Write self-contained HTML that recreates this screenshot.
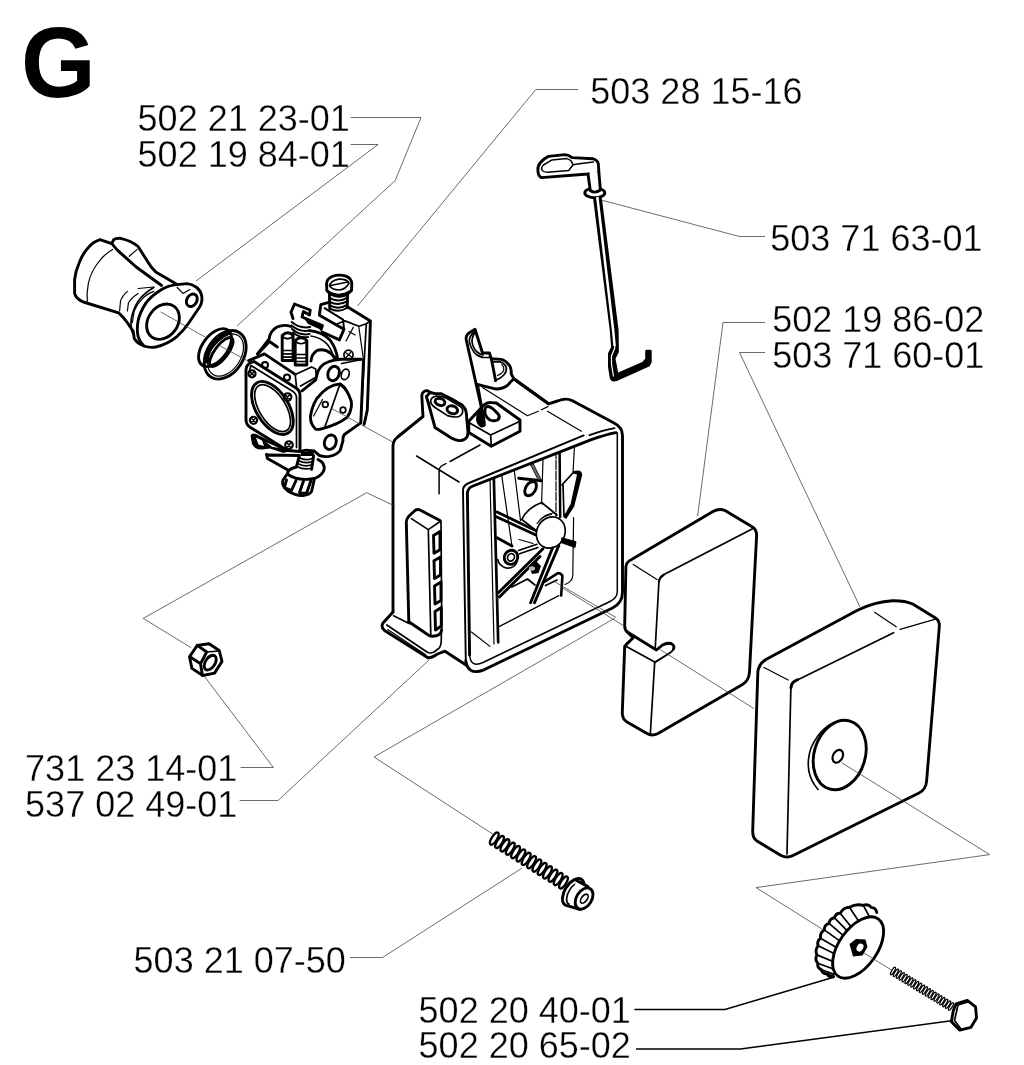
<!DOCTYPE html>
<html><head><meta charset="utf-8"><title>G</title>
<style>
html,body{margin:0;padding:0;background:#fff;}
body{width:1024px;height:1065px;overflow:hidden;font-family:"Liberation Sans",sans-serif;}
svg{display:block;position:absolute;left:0;top:0;}
.t{font-family:"Liberation Sans",sans-serif;font-size:36px;fill:#000;letter-spacing:0px;stroke:#fff;stroke-width:0.35px;}
.g{font-family:"Liberation Sans",sans-serif;font-size:100px;font-weight:bold;fill:#000;}
.ld{fill:none;stroke:#3a3a3a;stroke-width:0.75;}
.p{fill:none;stroke:#000;stroke-width:2.9;stroke-linejoin:round;stroke-linecap:round;}
.m{fill:none;stroke:#000;stroke-width:1.7;stroke-linejoin:round;stroke-linecap:round;}
.n{fill:none;stroke:#000;stroke-width:1.2;stroke-linejoin:round;stroke-linecap:round;}
.w{fill:#fff;}
.m2{fill:none;stroke:#000;stroke-width:2.2;}
.n2{fill:none;stroke:#000;stroke-width:1.3;}
</style></head><body>
<svg width="1024" height="1065" viewBox="0 0 1024 1065">
<rect width="1024" height="1065" fill="#fff"/>
<!--LABELS-->
<g id="labels" opacity="0.999">
<text class="g" transform="translate(21,97) scale(0.96,1)">G</text>
<text class="t" x="137.6" y="131.1">502 21 23-01</text>
<text class="t" x="137.6" y="167.1">502 19 84-01</text>
<text class="t" x="590.3" y="103.6">503 28 15-16</text>
<text class="t" x="770.3" y="251.1">503 71 63-01</text>
<text class="t" x="772.2" y="332.1">502 19 86-02</text>
<text class="t" x="772.2" y="367.9">503 71 60-01</text>
<text class="t" x="25.1" y="781.1">731 23 14-01</text>
<text class="t" x="25.1" y="816.6">537 02 49-01</text>
<text class="t" x="133.6" y="972.6">503 21 07-50</text>
<text class="t" x="418.6" y="1022.6">502 20 40-01</text>
<text class="t" x="418.6" y="1058.2">502 20 65-02</text>
</g>
<!--LEADERS-->
<!--PARTS-->
<g id="box">
<!-- silhouette fill to hide leader lines -->
<path class="w" d="M393 444L424 416L422 396L427 390.5L441 393.5L461 404L467 415L469 422L477 412L466.5 338L475 329.5L482.5 353H489.5L491.5 359L501 359.5L510 366L514 379L549 404L567.5 398.8L615 423.5L622.5 431V595L612.5 608L476 672.5L466 665L445 651.5L427.5 657.5L384 630L382.5 624L393 612Z"/>
<!-- outer silhouette -->
<path class="p" d="M393 612V446Q393 441 397 437.5L423 416.5L421.8 396Q422 391 427 390.6L430.5 392.5"/>
<path class="p" d="M393 612L383 623Q380.5 627 384.5 630.5L427.5 657.5Q431 658.5 437.5 654L445 651.2L466 665"/>
<path class="p" d="M514 379L548.5 403.8L557.5 401Q566 397.5 572 400.5L614 423Q622.5 427 622.5 436V592Q622.5 603 612.5 608L484 669.8Q468 676 465.8 661"/>
<path class="m" style="stroke-width:1.9" d="M465.8 661L463 491Q462.6 485.5 469 483L583.7 435.4M589.6 435.2Q603 430 614.5 428.1"/>
<path class="p" d="M469.6 655L467.4 494Q467.2 488.2 473 486L592 439.4Q606 434.4 616 432.6"/>
<path class="m" style="stroke-width:1.5" d="M469.6 655Q470.5 668 483 662.5L610 601.5Q617 598 617.3 592V433"/>
</g>

<g id="boxtop">
<!-- left boss -->
<path class="p w" d="M426.3 396.5L430.3 392.5L435 393.6L441.3 393.7L451.3 398.7L461.3 404.4Q465.6 408 466.3 413L468 432.5Q468 437 465 439Q462 441 458.7 440.6Q455 440 451.3 438L435 427.5L427.5 400Z"/>
<path class="m" d="M430.6 401.5Q431 397 436.3 396.2Q441 395.8 447 398.5L460 406.2Q463.5 409 462.5 412.5Q461 417 456 417Q451 417 447.5 415.6L435 407.5Q431 405 430.6 401.5Z"/>
<ellipse class="p" cx="440" cy="401.9" rx="5" ry="3.4" transform="rotate(18 440 401.9)"/>
<ellipse class="p" cx="452.3" cy="409.8" rx="5.4" ry="3.8" transform="rotate(18 452.3 409.8)"/>
<!-- block -->
<path class="p w" d="M468.8 421.3L483.8 405Q487 402.3 491 402.6L496.3 403L520 420V431.3L491.3 446.3L468.8 432.5Z"/>
<path class="m" d="M468.8 422.5L490.6 435L520 421.3M490.6 435L491.3 446.3"/>
<path class="p" d="M485 410Q485 406 488.5 406.5Q492 407 498.5 414.5Q500.5 418 497.5 420Q494 421.5 490 420Q484 416 485 410Z"/>
<!-- tall tab -->
<path class="p w" d="M482.5 412.5L466.3 340Q465.5 335.5 469 333L475 329.3L482.5 353H489.4L491.3 358.8L501.3 359.4Q506 360.5 510 366.3Q511.5 370 511.3 373.8L513.8 378.8L510 382.5Q508 386 502.5 388Q498 389.3 495 388.8L485 386.3L477.5 384.4Z"/>
<path class="m" d="M474 332Q469.5 336 469.3 341Q470 347 475 353.3Q479 357 483.8 357.5L489.5 357.5M476.3 331Q472 336 472 341.5Q472.5 347 476.5 351.5Q480 354.5 483 355"/>
<path class="p" d="M491.5 359.5L495.6 380.6"/>
<path class="m" d="M492.5 361.9L500 361.9Q505 363.5 506.3 367.5Q507 371.5 503.8 375Q500.5 378.5 496.3 380"/>
<path class="n" d="M501.9 364.4Q504.3 367 503.8 370Q502.5 373.5 497.5 375.5"/>
<path class="p" d="M482.5 412.5L478 412L477.5 420Q478.5 424.5 481.3 426Q484 426 484.4 425L483.8 418.8Z" style="fill:#000"/>
<path class="p" d="M513.8 378.8L548.5 403.8"/>
</g>
<g id="boxdetail">
<!-- left panel with slots -->
<path class="p" d="M408.8 621.7L406.3 522Q406.3 519 409 516L415 510.5Q417.3 508.7 420 510L440 520.5"/>
<path class="m" d="M440.8 521L428.3 529.6L411.4 518.6M428.3 529.6L430.8 635.5M441 521.5L441.8 630"/>
<path class="p" d="M408.8 621.7L429 635.5Q432 637 437 635.5Q441.5 634 441.5 630"/>
<path class="p" d="M433.5 535.5L440 531.5V549.8L434 553.3ZM434 560.8L440.5 557V575L434.5 578.6ZM434.5 586L441 582V600.5L435 604ZM435 611.5L441.3 607.5V626L435.5 630Z"/>
<!-- foot -->
<path class="m" d="M393.6 615.8L409 623.5M386.8 625L427 652Q430 654 434 652L438.4 648.8Q441.5 646 441.3 638.7V632"/>
<path class="n" d="M387.7 629.6L425.7 654.8"/>
<!-- top-left fillet lines -->
<path class="n" style="stroke-width:1.5" d="M416.6 456L459 482M439.1 493.7V470Q439.5 466 446 463.6M450 461.5L480 445"/>
<!-- top-right step lines -->
<path class="n" d="M547.5 411.3L581.3 431.3M482.5 387.5L527.4 415.7L538.3 411.3M541.3 409.8L547.9 406.6"/>
<clipPath id="boxclip"><path d="M617.3 432.7V594Q617 600 610 603L483 664.5Q473 668.5 471.5 660L467.8 493Q467.5 487.5 473 485.5L592 439.2Q606 434.2 617.3 432.7Z"/></clipPath>
<g clip-path="url(#boxclip)">
<!-- floor inside -->
<path class="n" d="M471.4 632L490 646.4M498.6 626.9L558.8 595.6"/>
<!-- interior walls -->
<path class="n" d="M490 478.4L494 644"/>
<path class="p" style="stroke-width:2.7" d="M493.8 477L498.2 642.3"/>
<path class="n" d="M501.7 475.3L511.9 545.6M514.2 469.8L520.5 520.6M543 459L541.6 504M574.4 447.2L573 473M573.6 517.5L572.8 575.3Q572.5 582 565 584.5"/>
<path class="n" stroke-dasharray="9 1.5" d="M556 450V517.5"/>
<path class="p" style="stroke-width:2.5" d="M559.6 449L560.2 517"/>
<!-- hook symbol -->
<path class="p" d="M518.6 478.2L541.3 480.8"/>
<ellipse class="p" cx="530.6" cy="488.6" rx="4.9" ry="7.8" transform="rotate(32 530.6 488.6)"/>
<path d="M530.6 465L533.4 464L541 479.2L538.4 480.3Z" fill="#666" stroke="#000" stroke-width="0.8"/>
<!-- blade -->
<path class="m" d="M562 484.8L573.8 472M563 485L564 516"/>
<path d="M572.8 470.9L578.7 470.6Q582 471.5 582.2 475L581.2 479L574.2 506.6L566.2 519L563.2 517L570.6 504L577 474.5L572.8 473.5Z" fill="#000"/>
<!-- cylinder knob -->
<path class="m" d="M521.8 519.5Q527 508 541.6 502.5L557 515M521.8 519.5L536 530.5"/>
<path class="n" d="M539 521Q545 514 553 513M537 523.5Q543 515.5 551.5 514.5"/>
<ellipse class="m w" cx="550.8" cy="532.5" rx="14" ry="16" transform="rotate(28 550.8 532.5)"/>
<!-- wedge -->
<path d="M561.9 537.8L576 541.7L575 547.5L561 542.5Z" fill="#000" stroke="#000" stroke-width="1"/>
<!-- ribs -->
<path class="p" d="M497 512L536 530.8M496.3 516.7L535.3 534.7M497 537.8L512 546"/>
<path class="m" d="M518.5 550.5L536.9 544.3M519.5 553.8L538 547.5"/>
<path class="n" d="M519 539.5L533 543.5"/>
<path class="p" d="M498.6 592.5L543 548.8M499.4 597L540 556.5M530.6 602.7L552.5 548M534.5 602.7L558.8 545.6"/>
<!-- small boss -->
<path class="m" d="M497.8 559.7Q499 566 506 568Q514 569 517 562"/>
<ellipse class="p w" cx="511" cy="557.3" rx="6.6" ry="7.2" transform="rotate(30 511 557.3)"/>
<ellipse class="m" cx="511" cy="557.3" rx="3.3" ry="3.9" transform="rotate(30 511 557.3)"/>
<!-- bracket -->
<path class="m" d="M511.9 587L527.5 579L535 585M545.5 585.5L557 580"/>
<path class="p" style="stroke-width:2.6" d="M544.7 581.6L557.5 573.3Q560 572.3 562.4 575.5L561.2 595.5"/>
<path d="M529 566L536 561L541 566L538.5 573L532 574Z" fill="#000"/>
<ellipse cx="532" cy="568.5" rx="3" ry="2.2" fill="#bbb"/>
</g>
</g>
<g id="filter">
<path class="p w" d="M625.9 567Q626 562 632 559.3L713 511.5Q719 508 725 510.5L751.7 526.6Q757 529.5 756.6 536L749.5 672Q749 680.5 742.5 684.5L658 733.5Q652 736.5 647 733.5L627 722Q622 719 622.3 712.3L624.7 646.3L633.2 637.8L627 631.7Q624.5 629.5 624.7 625Z"/>
<path class="p" d="M627 631.7L656.4 650L662.5 645Q667 642.5 671 643.5Q675 645.5 673.5 649"/>
<path class="m" style="stroke-width:2" d="M673.5 649Q672.5 651.5 669 653.5L655.2 662.2"/>
<path class="m" d="M655.2 662.2L625.9 646.3M633.2 637.8L625.9 644"/>
<path class="m" d="M655.2 648.8L658.9 582Q659.5 577 664 574.5L754 527.9M654.7 662.2L650.3 734.3"/>
<path class="n" d="M633.2 564.5L657 579.5"/>
<path class="m" style="stroke-width:2.2" d="M658.9 581.5Q659.5 577.5 663.5 575"/>
</g>
<g id="cover">
<path class="p w" d="M757.8 673Q758 665 765.4 659.8L857 610.5Q875 601.5 892.4 600.7Q905 600.5 912.7 604L935.5 617.9Q940 621 939.3 627L926.6 781Q926 789.5 919 793L793 855.5Q787 858.5 781 855.5L757 841Q752.5 838 752.7 831Z"/>
<path class="m" d="M787 854L790.8 691Q791 685 794.6 681.4Q796.5 679.8 798.4 679.4L893.6 632.7"/>
<path class="n" d="M764 667.5L788.2 680M874.6 612.3L896.2 626.8M900 629.4L935.5 619.2"/>
<path class="n" style="stroke-width:1.6" d="M844 719.8Q822 723 811 748Q803 772 818 789.5"/>
<path class="p" d="M790.9 688Q791.3 683 794.6 681.2L797.5 679.8"/>
<ellipse class="p" cx="839.7" cy="755" rx="25.5" ry="35.5" transform="rotate(17 839.7 755)"/>
<ellipse class="m" style="stroke-width:2.2" cx="837.8" cy="756.3" rx="4.8" ry="6.8" transform="rotate(28 837.8 756.3)"/>
</g>
<g id="manifold">
<path class="p w" d="M100 239.6Q93 242 89.3 246.5Q83 253 79.5 262Q75.5 271 74.6 279.7V293.4Q76 299 83.4 302L118.6 312.9Q123.5 317 127.4 322.7L133.2 331.4L134.2 338.3Q137 343.5 144 346Q150 348 155.7 347Q168 344 177.2 336.3Q184 330 188.9 322.7L199.6 307Q203 301 201.6 295.3Q200.5 290.5 196.7 287.5Q192 284 187 283.6L177.2 284.6L155.7 271.9Q151 267.5 147.9 262L138.1 246.5Q131 240.5 120.5 238.3Q116 238 113.7 239.6L111.8 243.6Z"/>
<path class="n" d="M112.7 249.4Q103 255 97.1 264Q90.5 273 88.3 283.6Q86.5 293 87.3 301.5"/>
<path class="p" d="M111.8 243.6L117.6 250.4L127.4 259.2L136.2 267L161.6 285.5"/>
<path class="n" d="M129.3 256.3L137.1 249.4"/>
<path class="p" d="M177.2 284.6Q168 285.5 161.6 289.5Q151 296 145.9 303.1Q140 312 138.1 320.7Q136.5 330 138.1 336.3Q140 342.5 144 346"/>
<path class="m" d="M153.8 287.5Q144 293 138.1 301.2Q133 309.5 131.3 318.8Q130.3 327 132.5 333"/>
<path class="n" d="M127.4 291.4Q122 296 120.5 301.2L119.6 311M138.1 288.5L153.8 287M138.1 293.4Q131.5 297.5 128.4 303L127.4 311M153.8 291.4Q146.5 294 142 299.2Q136.5 305 134.2 311L132.3 322.7"/>
<ellipse class="p" cx="163" cy="321.7" rx="14.8" ry="19" transform="rotate(36 163 321.7)"/>
<ellipse class="p" cx="191.8" cy="300.3" rx="5" ry="6.6" transform="rotate(30 191.8 300.3)"/>
<path class="n" d="M177.2 287.5L183 293.4L189.9 289.5"/>
</g>
<g id="ring">
<ellipse class="p" cx="215" cy="347.6" rx="12.4" ry="21.8" transform="rotate(37 215 347.6)"/>
<path d="M227.5 332.8Q214.5 339.5 208.5 351Q206.3 356 206.6 361" fill="none" stroke="#000" stroke-width="4.8" stroke-linecap="round"/>
<ellipse class="p" cx="221.3" cy="352" rx="6.6" ry="17.4" transform="rotate(37 221.3 352)"/>
<ellipse class="p" cx="225.2" cy="354.8" rx="18.2" ry="26.4" transform="rotate(33 225.2 354.8)"/>
<ellipse class="n" cx="225.6" cy="355" rx="15.2" ry="23.2" transform="rotate(33 225.6 355)"/>
</g>
<g id="carb">
<!-- silhouette white -->
<path class="w" d="M246 372L258 353L270 331L292 322L294 304L310 310L322 305L329 291L328 283L340 275L352 283L348 307L370 320L364 424L344 435L340 451L325 470L312 492L296 496L281 480L250 437L246 421Z"/>
<!-- top screw -->
<path class="p" d="M329.4 294L329.8 309M347.6 294L347.2 307.5"/>
<path class="m" style="stroke-width:2" d="M329.8 298.2Q338.5 303 347.4 297.6M329.8 301.8Q338.5 306.6 347.3 301.2M329.8 305.4Q338.5 310.2 347.2 304.8M330 308.6Q338.5 313 347 308"/>
<path class="p w" d="M326.6 284Q326.5 279 332 276.5Q339 274 346 276.2Q351.8 278.5 351.8 284L351.5 290.5Q346 296.5 339 296.2Q331.5 296 326.8 290.5Z"/>
<path d="M327 289.5Q338.5 298 351.5 289V291.5Q345 297.5 339 297.2Q332 297 327 292.5Z" fill="#000"/>
<path class="m" d="M329.5 285.8Q331 280.5 339 279.2Q347 279 349 283.2Q346 289.5 339 290Q332.5 290 329.5 285.8Z"/>
<path class="m" d="M330.5 285.5L348 282"/>
<!-- top right block -->
<path class="p" d="M328 302.6L320.8 304.6L319.4 315.3L344 329.2L339.4 339.9L322.2 332"/>
<path class="m" style="stroke-width:2" d="M324.5 308.2L343.1 319.6L344 329.2"/>
<path class="p" d="M347.7 307L370.4 320.9L369 365L367.3 410L364.2 424.3"/>
<path class="m" d="M337.5 323.7L345 320.9L358.9 326.2L366.3 323.7L370.4 320.9M366.3 323.7L364 365L360.8 422.9"/>
<path class="n" d="M358.9 327.4L363.5 360M353.3 327.4L346 341M349 331.5L355 335"/>
<path class="m" d="M362 359.5L341.6 363.5"/>
<!-- small screw right -->
<circle class="m" cx="348.5" cy="354.8" r="4.6"/>
<path class="n" d="M345.5 352.5L351.5 357M351 352L346 357.5"/>
<!-- choke lever -->
<path class="p" d="M293 318.5L291 312.2L294.5 304L310.2 310L309.5 315L303.4 311.5L302 317L322.5 325.5L321 329.5"/>
<path d="M303 317L322.5 325L321.5 330L308 324Z" fill="#000"/>
<path class="m" style="stroke-width:2.1" d="M291.7 322Q300 329 310.2 327M291.5 325.5Q300 332.5 309.8 330.5M292 329Q300 336 309.5 334M293 332.5Q300 338.5 308 337"/>
<!-- needles -->
<path class="p w" d="M282.2 335.5V360.5H293.1V335.5Q288 330 282.2 335.5Z"/>
<path class="m" d="M282.2 336.5Q287.6 341 293.1 336.5M282.2 350.5H293M282.4 353.8H293M282.6 357.2H293"/>
<path class="p w" d="M295.2 340.5V365H306.8V340.5Q301 335 295.2 340.5Z"/>
<path class="m" d="M295.2 341.5Q301 346 306.8 341.5M295.2 354.5H306.6M295.4 358H306.6M295.6 361.5H306.6"/>
<!-- hump left -->
<path class="p" d="M257.6 353.9L269.2 338.8Q270 331 277 327Q284 324 291 326.5"/>
<path class="p" d="M257.6 353.9L269.5 341.5L277.4 347"/>
<!-- curved arm -->
<path class="p" d="M309.5 330.6Q322 331.5 330 340Q336 348 337.5 358"/>
<path class="m" d="M311 336Q321 337.5 327.5 344.5Q332.5 351 333.5 358"/>
<path class="p" d="M311 361Q311.5 354 317 350.5Q324 348 331 353.5L336.5 359.5"/>
<!-- body top face -->
<path class="p" d="M248.7 360.7L264.4 353.9L295.2 374.4"/>
<path class="m" d="M295.2 374.4L311.6 366.9L315.7 368.9L316.4 377.1L300.6 386M295.2 374.4L296.5 387"/>
<!-- right face top outline -->
<path class="p" d="M302 390.8L315.7 379.8L317 374.4Q319.5 365 328 362Q334 359.5 341.6 359.3L361 359.3"/>
<!-- left face plate -->
<path class="p" d="M246 372Q245.5 366 250 363L254 361.5L296 388Q300 390.5 300 395V451.5L287.5 450.5L250.5 427.5Q245.8 424.5 246 419Z"/>
<path class="m" d="M249 372.5L251 365.5L293 391.5Q296.5 394 296.5 398V447.5"/>
<ellipse class="p" cx="272.4" cy="408" rx="16.2" ry="29.6" transform="rotate(-32 272.4 408)"/>
<ellipse class="m" cx="272.6" cy="408.2" rx="13.2" ry="26.4" transform="rotate(-32 272.6 408.2)"/>
<g class="m" style="stroke-width:2.1"><circle cx="252" cy="373.8" r="3.6"/><circle cx="287.6" cy="397" r="3.8"/><circle cx="253.5" cy="420.3" r="3.6"/><circle cx="289" cy="445" r="3.8"/><circle cx="265" cy="365" r="3"/><circle cx="287" cy="377.5" r="3"/></g>
<path class="n" style="stroke-width:1.6" d="M249.5 371.5L254.5 376M254.5 371.5L249.5 376M285 394.5L290 399.5M290 394.5L285 399.5M251 418L256 422.5M256 418L251 422.5M286.5 442.5L291.5 447.5M291.5 442.5L286.5 447.5"/>
<!-- right face -->
<path class="p" d="M363.5 360L360.8 422.9L344.4 434.5Q342.5 437 343 440.7L340.3 450.2Q337 455 329.3 456.4Q323 457 319.8 455.7Q316 453 314.3 450.9L306 450.2L300 451.6"/>
<ellipse class="p" cx="333.6" cy="373.5" rx="5.6" ry="7.4" transform="rotate(20 333.6 373.5)"/>
<ellipse class="m" cx="345.2" cy="374.4" rx="3.8" ry="5.4" transform="rotate(20 345.2 374.4)"/>
<ellipse class="p" cx="330.3" cy="442.2" rx="5.8" ry="7.4" transform="rotate(20 330.3 442.2)"/>
<!-- throttle plate -->
<path class="p" d="M340.3 383.9Q347 388 351.2 401Q352.5 410 347.1 417.4Q338 424.5 322.5 428.6Q317.5 430 315.5 429Q310 424 310.5 416Q312 406 317 398.3Q327 385 340.3 383.9Z"/>
<path d="M340.5 383.5Q348 388 351.5 400L349.5 399Q346 390.5 340 386Z" fill="#000"/>
<path class="m" d="M339.6 385.3L324.6 427.7"/>
<path class="n" d="M313.6 416L322.5 399.5"/>
<circle class="m" cx="325.3" cy="404.5" r="2.8"/><circle class="m" cx="343" cy="410" r="2.8"/>
<!-- bottom lever -->
<path d="M250.5 435.5Q252 432.5 256 434L281 446.5L288 451.5L283.5 453L270 448.5L262 449.5Q255 450 252 444Z" fill="#000"/>
<path d="M256 437.5L262 440.5L264 446L258.5 444.5Z" fill="#fff"/>
<path d="M266 442L279 448L272 446.8Z" fill="#fff"/>
<path class="p" d="M266.4 454.3L267.5 458.5L287 469.5M268 455L299 455.5"/>
<!-- bottom screw -->
<path class="p" d="M299.3 455.7L296.5 466.6M313.6 455.7L311.6 469.4"/>
<path class="m" d="M299 457.5Q306 461.5 313.3 458M298.3 460.5Q305.5 464.5 312.8 461.2M297.5 463.5Q305 467.5 312.3 464.5M296.8 466.5Q304.5 470.5 312 468"/>
<path d="M301 452L314 452L313.5 456L300.5 456Z" fill="#000"/>
<path class="p" d="M296.5 467Q287.5 469 287.6 473.5L283 480Q281 486 288 491Q296 496 303 495.5Q310 494.5 311.6 491.3L314.5 478.5Q322 475.5 324 470Q325.5 463 318 459.5"/>
<path class="p" d="M288 474.5Q298 481.5 314 478.5"/>
<path class="p" d="M286.5 480L284.5 487.5L291.5 490.5L296 480.5M303.5 481L299.5 492.5L306.5 493.5L311 480.5"/>
</g>
<g id="rod">
<ellipse class="p w" cx="594.8" cy="192.9" rx="10" ry="4.8"/>
<path d="M592.9 197L609.7 330L611.1 347.1L608 353.2L608 366.9L609.7 377.8Q610.5 381.5 614 381.5L616.9 380.9L649.7 366.2L651.7 362.1L651.7 351.2Q651.5 349.8 650.4 349.8L646.3 349.8Q645.2 350 645.2 351.2L645.2 358.7L642.2 362.1L618.2 372.4L615.5 358.7L618.9 351.9L618.6 330L601.7 197Z" fill="#000"/>
<path d="M597.3 197L613.1 330L614.6 346" fill="none" stroke="#fff" stroke-width="2.5"/>
<path d="M614.6 345L614.8 348L611.5 356L611.5 364.2L613.5 376.5" fill="none" stroke="#fff" stroke-width="1.2" stroke-linejoin="round"/>
<path class="p w" d="M588 174L590.3 190.5Q595 194 600.4 190L598.8 171.7Z"/>
<path class="p w" d="M537.9 170.5Q537.5 166 540.5 162.5Q544 158.5 548.5 156.4L564.9 154.6Q569 155 572 157.6L593.1 158.8Q597.5 160 598.3 163.5L598.8 171.7L588 174L541.4 177.6Q538 176 537.9 170.5Z"/>
<path class="w" d="M589.8 176L597.4 174.5L597 168L589.3 169Z"/>
<path class="m" style="stroke-width:1.5" d="M541.6 169.5Q541.5 166.5 543.4 165L552 159.9L566.9 158.6Q570 159.5 571.3 161.3L573.1 164.8L568.7 170.5L547.6 172.3Q543 172 541.6 169.5ZM573.1 164.8L579.2 163.7L593.3 162.1"/>
</g>
<g id="nut">
<path class="p w" d="M189.5 656.7L197.3 645.4L209.1 643.8L219.2 650.5L222 661.4L214.5 673.1L202.8 675.5L191.9 668.4Z"/>
<path class="p" d="M197.3 645.4L206.7 652L200.5 663.75L191 657.5M200.5 663.75L202.4 675"/>
<path class="m" d="M206.7 652L219 651"/>
<ellipse class="p" cx="210.2" cy="662.6" rx="4.8" ry="8.2" transform="rotate(33 210.2 662.6)"/>
</g>
<g id="screw">
<ellipse class="m2 w" cx="494.3" cy="838.6" rx="2.6" ry="7.0" transform="rotate(32.4 494.3 838.6)"/>
<ellipse class="m2 w" cx="499.6" cy="842.0" rx="2.6" ry="7.0" transform="rotate(32.4 499.6 842.0)"/>
<ellipse class="m2 w" cx="504.9" cy="845.4" rx="2.6" ry="7.0" transform="rotate(32.4 504.9 845.4)"/>
<ellipse class="m2 w" cx="510.3" cy="848.7" rx="2.6" ry="7.0" transform="rotate(32.4 510.3 848.7)"/>
<ellipse class="m2 w" cx="515.6" cy="852.1" rx="2.6" ry="7.0" transform="rotate(32.4 515.6 852.1)"/>
<ellipse class="m2 w" cx="520.9" cy="855.5" rx="2.6" ry="7.0" transform="rotate(32.4 520.9 855.5)"/>
<ellipse class="m2 w" cx="526.2" cy="858.9" rx="2.6" ry="7.0" transform="rotate(32.4 526.2 858.9)"/>
<ellipse class="m2 w" cx="531.6" cy="862.2" rx="2.6" ry="7.0" transform="rotate(32.4 531.6 862.2)"/>
<ellipse class="m2 w" cx="536.9" cy="865.6" rx="2.6" ry="7.0" transform="rotate(32.4 536.9 865.6)"/>
<ellipse class="m2 w" cx="542.2" cy="869.0" rx="2.6" ry="7.0" transform="rotate(32.4 542.2 869.0)"/>
<ellipse class="m2 w" cx="547.5" cy="872.4" rx="2.6" ry="7.0" transform="rotate(32.4 547.5 872.4)"/>
<ellipse class="m2 w" cx="552.9" cy="875.7" rx="2.6" ry="7.0" transform="rotate(32.4 552.9 875.7)"/>
<ellipse class="m2 w" cx="558.2" cy="879.1" rx="2.6" ry="7.0" transform="rotate(32.4 558.2 879.1)"/>
<ellipse class="m2 w" cx="563.5" cy="882.5" rx="2.6" ry="7.0" transform="rotate(32.4 563.5 882.5)"/>
<ellipse class="p w" cx="573.3" cy="892.2" rx="8.6" ry="15.2" transform="rotate(32 573.3 892.2)"/>
<ellipse class="m" cx="575.3" cy="893.4" rx="6.6" ry="12.6" transform="rotate(32 575.3 893.4)"/>
<path class="p w" d="M576 881L588.5 887L581 909.5L569.5 905Z" style="stroke:none"/>
<path class="p" d="M576.5 880.5L588 886.6M569.5 906.3L580.3 909.5"/>
<ellipse class="p w" cx="584.1" cy="898.5" rx="7.6" ry="11.6" transform="rotate(32 584.1 898.5)"/>
<ellipse class="m" cx="584.3" cy="898.7" rx="2.8" ry="5.2" transform="rotate(36 584.3 898.7)"/>
</g>
<g id="knob">
<path class="w" d="M876.8 912.5Q875.4 907.3 871.6 907.6Q868.1 903.6 863.3 905.4Q856.2 903.4 849.4 907.3Q843.7 907.4 840.1 913.2Q835.7 913.0 834.5 917.8Q829.7 918.5 829.0 923.4Q824.1 925.0 824.3 929.9Q819.6 933.0 820.6 938.2Q816.4 941.5 818.2 945.7Q814.6 950.5 816.9 954.9Q814.5 959.9 817.8 963.3Q817.0 967.9 821.5 969.8Q821.9 973.6 827.1 973.9Q828.2 977.5 833.6 976.8L850 960L872 920Z"/>
<path class="p" d="M876.8 912.5Q875.4 907.3 871.6 907.6Q868.1 903.6 863.3 905.4Q856.2 903.4 849.4 907.3Q843.7 907.4 840.1 913.2Q835.7 913.0 834.5 917.8Q829.7 918.5 829.0 923.4Q824.1 925.0 824.3 929.9Q819.6 933.0 820.6 938.2Q816.4 941.5 818.2 945.7Q814.6 950.5 816.9 954.9Q814.5 959.9 817.8 963.3Q817.0 967.9 821.5 969.8Q821.9 973.6 827.1 973.9Q828.2 977.5 833.6 976.8"/>
<path class="m" d="M863.3 905.4l9.1 16.8M849.4 907.3l10.5 15.7M840.1 913.2l11.9 14.7M834.5 917.8l13.3 13.6M829.0 923.4l14.7 12.5M824.3 929.9l16.1 11.5M820.6 938.2l17.5 10.4M818.2 945.7l18.9 9.2M816.9 954.9l20.3 8.3M817.8 963.3l21.0 7.7M821.5 969.8l12.6 4.6M827.1 973.9l6.3 2.3"/>
<ellipse class="p w" cx="858.1" cy="947.5" rx="19.2" ry="35" transform="rotate(35 858.1 947.5)"/>
<path d="M849.5 944L856 939L865.5 939.5L867.5 947L862.5 955.5L853 956.5Z" fill="#000"/>
<ellipse cx="860" cy="947.5" rx="3.2" ry="4.2" fill="#fff" transform="rotate(30 860 947.5)"/>
<path class="n" d="M854 945.5L859 942.5L864 943.5"/>
</g>
<g id="bolt">
<ellipse class="n2" cx="893.0" cy="971.0" rx="1.3" ry="4.3" transform="rotate(31.5 893.0 971.0)"/>
<ellipse class="n2" cx="895.9" cy="972.8" rx="1.3" ry="4.3" transform="rotate(31.5 895.9 972.8)"/>
<ellipse class="n2" cx="898.8" cy="974.5" rx="1.3" ry="4.3" transform="rotate(31.5 898.8 974.5)"/>
<ellipse class="n2" cx="901.7" cy="976.3" rx="1.3" ry="4.3" transform="rotate(31.5 901.7 976.3)"/>
<ellipse class="n2" cx="904.6" cy="978.1" rx="1.3" ry="4.3" transform="rotate(31.5 904.6 978.1)"/>
<ellipse class="n2" cx="907.5" cy="979.9" rx="1.3" ry="4.3" transform="rotate(31.5 907.5 979.9)"/>
<ellipse class="n2" cx="910.4" cy="981.6" rx="1.3" ry="4.3" transform="rotate(31.5 910.4 981.6)"/>
<ellipse class="n2" cx="913.3" cy="983.4" rx="1.3" ry="4.3" transform="rotate(31.5 913.3 983.4)"/>
<ellipse class="n2" cx="916.2" cy="985.2" rx="1.3" ry="4.3" transform="rotate(31.5 916.2 985.2)"/>
<ellipse class="n2" cx="919.1" cy="987.0" rx="1.3" ry="4.3" transform="rotate(31.5 919.1 987.0)"/>
<ellipse class="n2" cx="922.0" cy="988.8" rx="1.3" ry="4.3" transform="rotate(31.5 922.0 988.8)"/>
<ellipse class="n2" cx="924.9" cy="990.5" rx="1.3" ry="4.3" transform="rotate(31.5 924.9 990.5)"/>
<ellipse class="n2" cx="927.8" cy="992.3" rx="1.3" ry="4.3" transform="rotate(31.5 927.8 992.3)"/>
<ellipse class="n2" cx="930.7" cy="994.1" rx="1.3" ry="4.3" transform="rotate(31.5 930.7 994.1)"/>
<ellipse class="n2" cx="933.6" cy="995.9" rx="1.3" ry="4.3" transform="rotate(31.5 933.6 995.9)"/>
<ellipse class="n2" cx="936.5" cy="997.6" rx="1.3" ry="4.3" transform="rotate(31.5 936.5 997.6)"/>
<ellipse class="n2" cx="939.4" cy="999.4" rx="1.3" ry="4.3" transform="rotate(31.5 939.4 999.4)"/>
<ellipse class="n2" cx="942.3" cy="1001.2" rx="1.3" ry="4.3" transform="rotate(31.5 942.3 1001.2)"/>
<ellipse class="n2" cx="945.2" cy="1003.0" rx="1.3" ry="4.3" transform="rotate(31.5 945.2 1003.0)"/>
<ellipse class="n2" cx="948.1" cy="1004.7" rx="1.3" ry="4.3" transform="rotate(31.5 948.1 1004.7)"/>
<ellipse class="n2" cx="951.0" cy="1006.5" rx="1.3" ry="4.3" transform="rotate(31.5 951.0 1006.5)"/>
<path class="p w" d="M956 1004L967.2 1000.4L975.6 1006.9L976.5 1018L971 1027.3L959.8 1030.1L951.4 1021.75L953.3 1010.6Z"/>
<path class="m" d="M958 1005L954.5 1020.5L961 1029M958 1005L968 1002"/>
</g>
<g id="leaders" class="ld">
<path d="M350.7 117.5H421L395.2 180.6L237 326"/>
<path d="M350.7 144.5H378.1L196 281"/>
<path d="M578 89.5H535.8L357.5 306"/>
<path d="M765 236.5H739.5L601 200"/>
<path d="M765 322.5H723L697.6 516"/>
<path d="M765 352.5H739.5L860 607"/>
<path d="M240.6 767.5H273.4L204.4 676.3"/>
<path d="M239.7 800.5H278L429 660"/>
<path d="M350 957.5H382.5L521.9 868.2"/>
<path d="M160.6 311.9L205.5 337.3M220.2 346L247.5 360.7"/>
<path d="M330.7 407.9L392 441.7"/>
<path d="M191.1 647.7L143.2 618.4L366.7 492.7L394.7 506"/>
<path d="M553.7 581.2L615.9 617.4M560.5 586.7L623.4 625.6M660.1 649.5L754 708.6M841.6 762.7L989.6 854.6L756 887.6L823.4 929.9"/>
<path d="M614.9 618.1L374 757L492.7 834"/>
<path d="M864.2 953.1L891.1 969.8"/>
<path d="M634.4 1009.5H725L833.6 977.2" style="stroke:#000;stroke-width:1.5"/>
<path d="M636 1049H740.5L951.4 1020.8" style="stroke:#000;stroke-width:1.5"/>
</g>
</svg>
</body></html>
